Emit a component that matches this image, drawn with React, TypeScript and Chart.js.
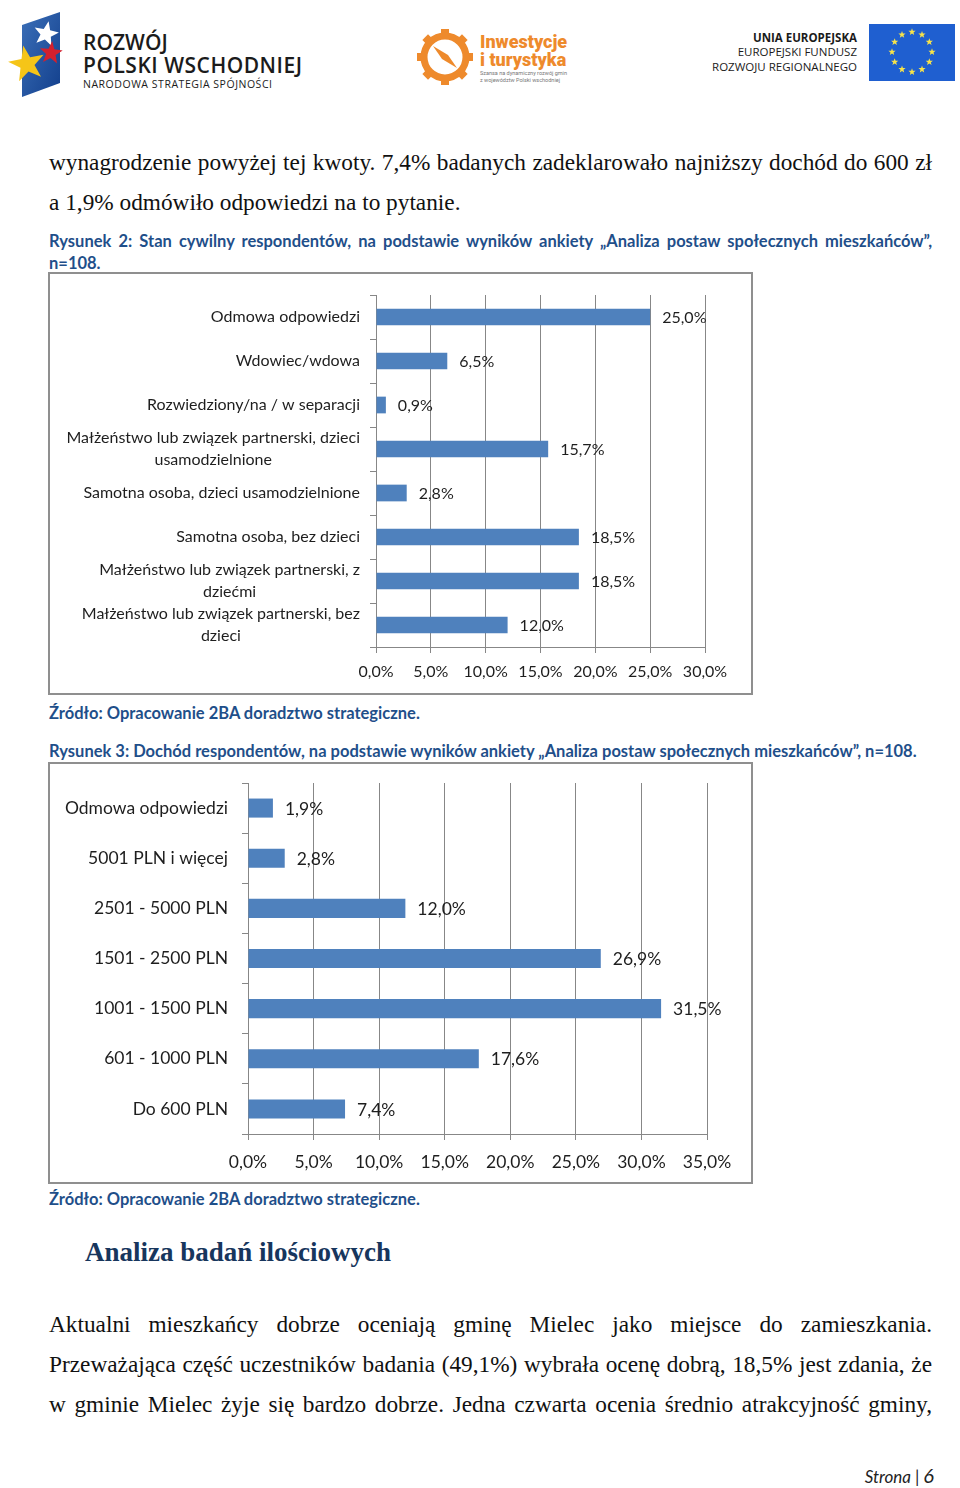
import React, { useEffect, useRef } from "react";
import { Chart, registerables } from "chart.js";
Chart.register(...registerables);

// ---------- DATA ----------
const civilCategories: string[][] = [
  ["Odmowa odpowiedzi"],
  ["Wdowiec/wdowa"],
  ["Rozwiedziony/na / w separacji"],
  ["Małżeństwo lub związek partnerski, dzieci", "usamodzielnione"],
  ["Samotna osoba, dzieci usamodzielnione"],
  ["Samotna osoba, bez dzieci"],
  ["Małżeństwo lub związek partnerski, z", "dziećmi"],
  ["Małżeństwo lub związek partnerski, bez", "dzieci"],
];
const civilValues = [25.0, 6.5, 0.9, 15.7, 2.8, 18.5, 18.5, 12.0];
const civilMax = 30;

const incomeCategories: string[][] = [
  ["Odmowa odpowiedzi"],
  ["5001 PLN i więcej"],
  ["2501 - 5000 PLN"],
  ["1501 - 2500 PLN"],
  ["1001 - 1500 PLN"],
  ["601 - 1000 PLN"],
  ["Do 600 PLN"],
];
const incomeValues = [1.9, 2.8, 12.0, 26.9, 31.5, 17.6, 7.4];
const incomeMax = 35;
const tickStep = 5;

const fmt = (v: number) => v.toFixed(1).replace(".", ",") + "%";

type BarProps = {
  labels: string[][];
  values: number[];
  max: number;
  width: number;
  height: number;
  padTop: number;
  padRight: number;
  yWidth: number;
  xHeight: number;
  tickPad: number;
  fs: number;
  labelGap: number;
  lineH: number;
};

function BarChart(p: BarProps) {
  const ref = useRef<HTMLCanvasElement>(null);
  useEffect(() => {
    if (!ref.current) return;
    const textColor = "#1e1e1e";
    const gridColor = "#878787";
    const labelPlugin = {
      id: "customLabels",
      afterDatasetsDraw(chart: any) {
        const ctx = chart.ctx;
        const yScale = chart.scales.y;
        const meta = chart.getDatasetMeta(0);
        ctx.save();
        ctx.fillStyle = textColor;
        ctx.font = `${p.fs}px Lato`;
        ctx.textBaseline = "middle";
        ctx.textAlign = "left";
        meta.data.forEach((bar: any, i: number) => {
          ctx.fillText(fmt(p.values[i]), bar.x + 12, bar.y + 1);
        });
        ctx.textAlign = "center";
        p.labels.forEach((lines, i) => {
          const y = yScale.getPixelForValue(i);
          const w = Math.max(...lines.map((l) => ctx.measureText(l).width));
          const cx = yScale.right - p.labelGap - w / 2;
          lines.forEach((l, j) => {
            const ly = y + (j - (lines.length - 1) / 2) * p.lineH;
            ctx.fillText(l, cx, ly);
          });
        });
        ctx.restore();
      },
    };
    const chart = new Chart(ref.current, {
      type: "bar",
      data: {
        labels: p.labels.map((l) => l.join(" ")),
        datasets: [
          {
            data: p.values,
            backgroundColor: "#4f81bd",
            barPercentage: 0.38,
            categoryPercentage: 1,
          },
        ],
      },
      options: {
        indexAxis: "y",
        responsive: false,
        animation: false,
        layout: { padding: { top: p.padTop, right: p.padRight, left: 0, bottom: 0 } },
        plugins: { legend: { display: false }, tooltip: { enabled: false } },
        scales: {
          x: {
            type: "linear",
            min: 0,
            max: p.max,
            ticks: {
              stepSize: tickStep,
              callback: (v: any) => fmt(Number(v)),
              font: { family: "Lato", size: p.fs },
              color: textColor,
              padding: p.tickPad,
              maxRotation: 0,
              autoSkip: false,
            },
            grid: { color: gridColor, tickLength: 6 },
            border: { color: gridColor },
            afterFit: (s: any) => {
              s.height = p.xHeight;
            },
          },
          y: {
            type: "category",
            ticks: { display: false },
            grid: { offset: true, drawOnChartArea: false, tickLength: 6, color: gridColor },
            border: { color: gridColor },
            afterFit: (s: any) => {
              s.width = p.yWidth;
            },
          },
        },
      } as any,
      plugins: [labelPlugin],
    });
    return () => chart.destroy();
  }, []);
  return <canvas ref={ref} width={p.width} height={p.height} style={{ display: "block", width: p.width, height: p.height }} />;
}

function starPoints(cx: number, cy: number, R: number, r: number, rot = 0) {
  const pts: string[] = [];
  for (let i = 0; i < 10; i++) {
    const a = rot - Math.PI / 2 + (i * Math.PI) / 5;
    const rad = i % 2 === 0 ? R : r;
    pts.push(`${(cx + rad * Math.cos(a)).toFixed(1)},${(cy + rad * Math.sin(a)).toFixed(1)}`);
  }
  return pts.join(" ");
}

function Header() {
  const euStars = Array.from({ length: 12 }, (_, i) => {
    const a = (i * Math.PI) / 6;
    return starPoints(912 + 20 * Math.sin(a), 52 - 20 * Math.cos(a), 3.8, 1.6);
  });
  const teeth = Array.from({ length: 8 }, (_, i) => i * 45);
  return (
    <svg width={960} height={110} style={{ position: "absolute", left: 0, top: 0 }}>
      <defs>
        <linearGradient id="flagG" x1="0" y1="0" x2="1" y2="1">
          <stop offset="0" stopColor="#3b6fb8" />
          <stop offset="1" stopColor="#123f8c" />
        </linearGradient>
      </defs>
      <polygon points="22,25 60,12 60,83 22,97" fill="url(#flagG)" />
      <polygon points={starPoints(46, 34, 13, 5.5, 0.2)} fill="#ffffff" />
      <polygon points={starPoints(51, 53, 12, 5, 0.1)} fill="#d3202e" />
      <polygon points={starPoints(27, 64, 19, 7.5, -0.2)} fill="#f5c518" />
      <text x={83} y={50} fontFamily="Open Sans" fontWeight={600} fontSize={21} fill="#1b1b1b">ROZWÓJ</text>
      <text x={83} y={73} fontFamily="Open Sans" fontWeight={600} fontSize={21} fill="#1b1b1b" textLength={219}>POLSKI WSCHODNIEJ</text>
      <text x={83} y={88} fontFamily="Open Sans" fontSize={10.5} fill="#1b1b1b" textLength={189}>NARODOWA STRATEGIA SPÓJNOŚCI</text>

      {teeth.map((d) => (
        <rect key={d} x={441} y={29} width={8} height={8} fill="#ee8a2c" transform={`rotate(${d} 445 57)`} />
      ))}
      <circle cx={445} cy={57} r={21} fill="none" stroke="#ee8a2c" strokeWidth={7} />
      <circle cx={445} cy={57} r={16} fill="#ffffff" />
      <polygon points="433,46 448,55 457,68 442,59" fill="#ee8a2c" />
      <text x={480} y={48} fontFamily="Roboto" fontWeight={900} fontSize={18} fill="#ee8a2c">Inwestycje</text>
      <text x={480} y={66} fontFamily="Roboto" fontWeight={900} fontSize={18} fill="#ee8a2c">i turystyka</text>
      <text x={480} y={75} fontFamily="Roboto" fontSize={5.5} fill="#777">Szansa na dynamiczny rozwój gmin</text>
      <text x={480} y={82} fontFamily="Roboto" fontSize={5.5} fill="#777">z województw Polski wschodniej</text>

      <text x={857} y={42} textAnchor="end" fontFamily="Open Sans" fontWeight={700} fontSize={11.5} fill="#1b1b1b">UNIA EUROPEJSKA</text>
      <text x={857} y={56} textAnchor="end" fontFamily="Open Sans" fontSize={11.5} fill="#1b1b1b">EUROPEJSKI FUNDUSZ</text>
      <text x={857} y={71} textAnchor="end" fontFamily="Open Sans" fontSize={11.5} fill="#1b1b1b">ROZWOJU REGIONALNEGO</text>
      <rect x={869} y={24} width={86} height={57} fill="#1f5fd0" />
      {euStars.map((s, i) => (
        <polygon key={i} points={s} fill="#f7e34a" />
      ))}
    </svg>
  );
}

const serif = "'Liberation Serif', 'Times New Roman', serif";
const sans = "Lato, Carlito, Calibri, sans-serif";
const captionColor = "#1f4f8a";

function Line(props: { center: number; justify?: boolean; left?: number; width?: number; style?: React.CSSProperties; lh?: number; children: React.ReactNode }) {
  const lh = props.lh ?? 30;
  return (
    <div
      style={{
        position: "absolute",
        left: props.left ?? 49,
        width: props.width ?? 883,
        top: props.center - lh / 2 - 2,
        height: lh,
        lineHeight: `${lh}px`,
        textAlign: props.justify ? "justify" : "left",
        textAlignLast: props.justify ? "justify" : "left",
        ...props.style,
      }}
    >
      {props.children}
    </div>
  );
}

export default function App() {
  const body: React.CSSProperties = { fontFamily: serif, fontSize: 23.3, color: "#111" };
  const cap: React.CSSProperties = { fontFamily: sans, fontWeight: 700, fontSize: 16.5, color: captionColor };
  return (
    <div style={{ position: "absolute", left: 0, top: 0, width: 960, height: 1488, background: "#fff", overflow: "hidden" }}>
      <Header />
      <Line center={164} justify style={body}>
        wynagrodzenie powyżej tej kwoty. 7,4% badanych zadeklarowało najniższy dochód do 600 zł
      </Line>
      <Line center={204} style={body}>
        a 1,9% odmówiło odpowiedzi na to pytanie.
      </Line>
      <Line center={243} justify style={cap} lh={22}>
        Rysunek 2: Stan cywilny respondentów, na podstawie wyników ankiety „Analiza postaw społecznych mieszkańców”,
      </Line>
      <Line center={265} style={cap} lh={22}>
        n=108.
      </Line>

      <div style={{ position: "absolute", left: 48, top: 272, width: 701, height: 419, border: "2px solid #8f8f8f" }}>
        <BarChart
          labels={civilCategories}
          values={civilValues}
          max={civilMax}
          width={701}
          height={419}
          padTop={21}
          padRight={46}
          yWidth={326}
          xHeight={46}
          tickPad={9}
          fs={16}
          labelGap={16}
          lineH={22}
        />
      </div>

      <Line center={715} style={cap} lh={22}>
        Źródło: Opracowanie 2BA doradztwo strategiczne.
      </Line>
      <Line center={753} style={cap} lh={22}>
        Rysunek 3: Dochód respondentów, na podstawie wyników ankiety „Analiza postaw społecznych mieszkańców”, n=108.
      </Line>

      <div style={{ position: "absolute", left: 48, top: 762, width: 701, height: 418, border: "2px solid #8f8f8f" }}>
        <BarChart
          labels={incomeCategories}
          values={incomeValues}
          max={incomeMax}
          width={701}
          height={418}
          padTop={19}
          padRight={44}
          yWidth={198}
          xHeight={48}
          tickPad={12}
          fs={17.5}
          labelGap={20}
          lineH={24}
        />
      </div>

      <Line center={1201} style={cap} lh={22}>
        Źródło: Opracowanie 2BA doradztwo strategiczne.
      </Line>

      <Line center={1254} left={85} width={700} style={{ fontFamily: serif, fontWeight: 700, fontSize: 27, color: "#17365d" }} lh={34}>
        Analiza badań ilościowych
      </Line>

      <Line center={1326} justify style={body}>
        Aktualni mieszkańcy dobrze oceniają gminę Mielec jako miejsce do zamieszkania.
      </Line>
      <Line center={1366} justify style={body}>
        Przeważająca część uczestników badania (49,1%) wybrała ocenę dobrą, 18,5% jest zdania, że
      </Line>
      <Line center={1406} justify style={body}>
        w gminie Mielec żyje się bardzo dobrze. Jedna czwarta ocenia średnio atrakcyjność gminy,
      </Line>

      <div style={{ position: "absolute", right: 26, top: 1463, fontFamily: sans, color: "#222", whiteSpace: "nowrap" }}>
        <span style={{ fontStyle: "italic", fontSize: 17 }}>Strona | </span>
        <span style={{ fontStyle: "italic", fontSize: 20 }}>6</span>
      </div>
    </div>
  );
}
